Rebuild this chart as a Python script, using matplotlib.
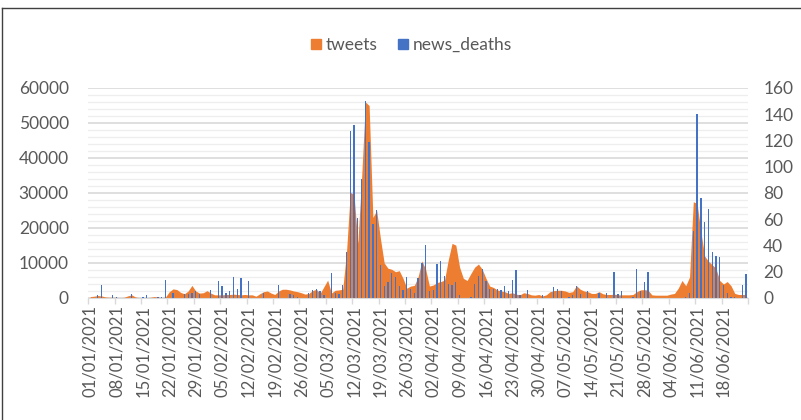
import numpy as np
import pandas as pd
import matplotlib.pyplot as plt
from matplotlib.patches import Patch
from matplotlib.lines import Line2D

plt.rcParams['font.family'] = ['Lato', 'DejaVu Sans']

start = '2021-01-01'

# daily values, one row per week
tweets = [
    400, 500, 700, 600, 300, 200, 200,
    200, 100, 200, 600, 900, 300, 100,
    100, 100, 200, 400, 300, 100, 300,
    1800, 2600, 2400, 1600, 1200, 2000, 3600,
    2000, 1400, 1500, 2100, 1400, 900, 900,
    900, 1000, 1000, 1100, 1000, 900, 1000,
    900, 900, 500, 1200, 1800, 2000, 1400,
    1000, 2000, 2500, 2500, 2300, 2000, 1800,
    1500, 1100, 1300, 2100, 2500, 1300, 3200,
    5100, 1400, 2200, 2300, 2500, 13000, 30200,
    29500, 15600, 34000, 56000, 55000, 23000, 25000,
    17000, 10000, 8500, 8200, 7500, 7800, 5600,
    2800, 3400, 3600, 6100, 10600, 8200, 3400,
    3700, 4400, 4700, 5100, 10900, 15600, 15100,
    8800, 5600, 5000, 7000, 8800, 9700, 8200,
    5600, 3400, 3000, 2300, 2000, 1800, 1300,
    1500, 1100, 900, 1500, 1300, 900, 800,
    1000, 600, 900, 1800, 2100, 2200, 2200,
    2000, 1600, 1800, 3500, 2500, 2000, 1800,
    1300, 1300, 1800, 1200, 1000, 1000, 1100,
    900, 900, 900, 900, 1000, 1800, 2300,
    2400, 2200, 900, 800, 800, 800, 800,
    1100, 1300, 2800, 5000, 3500, 6000, 27500,
    27000, 19000, 12000, 10500, 9500, 8500, 5000,
    4000, 4700, 3500, 1300, 1000, 1000, 1000,
]

news_deaths = [
    0, 0, 2, 10, 0, 0, 2,
    1, 0, 0, 0, 3, 0, 0,
    1, 2, 0, 0, 1, 1, 14,
    0, 4, 0, 0, 3, 3, 4,
    5, 3, 0, 0, 6, 0, 13,
    9, 4, 5, 16, 7, 15, 0,
    13, 0, 0, 0, 4, 0, 0,
    0, 10, 0, 0, 3, 2, 1,
    0, 0, 4, 6, 7, 5, 2,
    0, 19, 4, 3, 10, 35, 127,
    132, 61, 91, 150, 119, 56, 67,
    25, 9, 12, 19, 16, 9, 6,
    16, 7, 4, 15, 27, 40, 5,
    6, 26, 28, 17, 11, 10, 12,
    2, 0, 0, 1, 11, 17, 22,
    13, 7, 7, 7, 6, 9, 5,
    14, 21, 2, 0, 6, 0, 0,
    0, 2, 0, 0, 8, 7, 5,
    0, 1, 2, 9, 3, 0, 5,
    0, 0, 4, 0, 4, 0, 20,
    3, 5, 0, 0, 1, 22, 5,
    12, 20, 0, 0, 0, 0, 0,
    0, 0, 0, 0, 1, 4, 51,
    140, 76, 58, 68, 35, 32, 31,
    10, 4, 1, 1, 0, 10, 18,
]

dates = pd.date_range(start, periods=len(tweets), freq='D')
x = np.arange(len(dates))

orange = '#ED7D31'
blue = '#4472C4'
txt = '#595959'
grid = '#D9D9D9'

fig = plt.figure(figsize=(8.01, 4.2), dpi=100)
ax = fig.add_axes([0.1102, 0.2905, 0.8236, 0.5])

# tweets as area on the left axis
ax.fill_between(x, tweets, color=orange, lw=0, zorder=2)
ax.set_xlim(-0.5, len(x) - 0.5)
ax.set_ylim(0, 60000)
ax.set_yticks(range(0, 60001, 10000))
ax.set_yticks(range(0, 60001, 2000), minor=True)
ax.grid(axis='y', which='major', color=grid, lw=1.2)
ax.grid(axis='y', which='minor', color='#EEEEEE', lw=0.9)
ax.set_axisbelow(True)
ax.tick_params(axis='y', which='both', length=0, labelsize=12.5, labelcolor=txt, pad=14)

for s in ['top', 'left', 'right']:
    ax.spines[s].set_visible(False)
ax.spines['bottom'].set_color(grid)

# weekly labels on category centres, tick marks between categories
ax.set_xticks(x[::7])
ax.set_xticklabels([d.strftime('%d/%m/%Y') for d in dates[::7]], rotation=90)
ax.set_xticks(np.arange(-0.5, len(x), 7), minor=True)
ax.tick_params(axis='x', which='major', length=0, labelsize=12, labelcolor=txt, pad=5)
ax.tick_params(axis='x', which='minor', length=4, color=grid, width=1)

# deaths as thin columns on the right axis
ax2 = ax.twinx()
ax2.bar(x, news_deaths, width=0.35, color=blue, zorder=3)
ax2.set_ylim(0, 160)
ax2.set_yticks(range(0, 161, 20))
ax2.tick_params(axis='y', length=0, labelsize=12.5, labelcolor=txt, pad=11)
for s in ax2.spines.values():
    s.set_visible(False)

fig.legend(handles=[Patch(color=orange, label='tweets'), Patch(color=blue, label='news_deaths')],
           loc='center', bbox_to_anchor=(0.514, 0.893), ncol=2, frameon=False,
           fontsize=12.5, labelcolor=txt, handlelength=0.55, handleheight=0.55,
           handletextpad=0.3, columnspacing=1.2)

# chart border (top and left edges)
fig.add_artist(Line2D([1.5 / 801, 1], [1 - 8 / 420] * 2, transform=fig.transFigure, color='#404040', lw=1))
fig.add_artist(Line2D([1.5 / 801] * 2, [0, 1 - 8 / 420], transform=fig.transFigure, color='#404040', lw=1))

fig.savefig('out.png', dpi=100)
